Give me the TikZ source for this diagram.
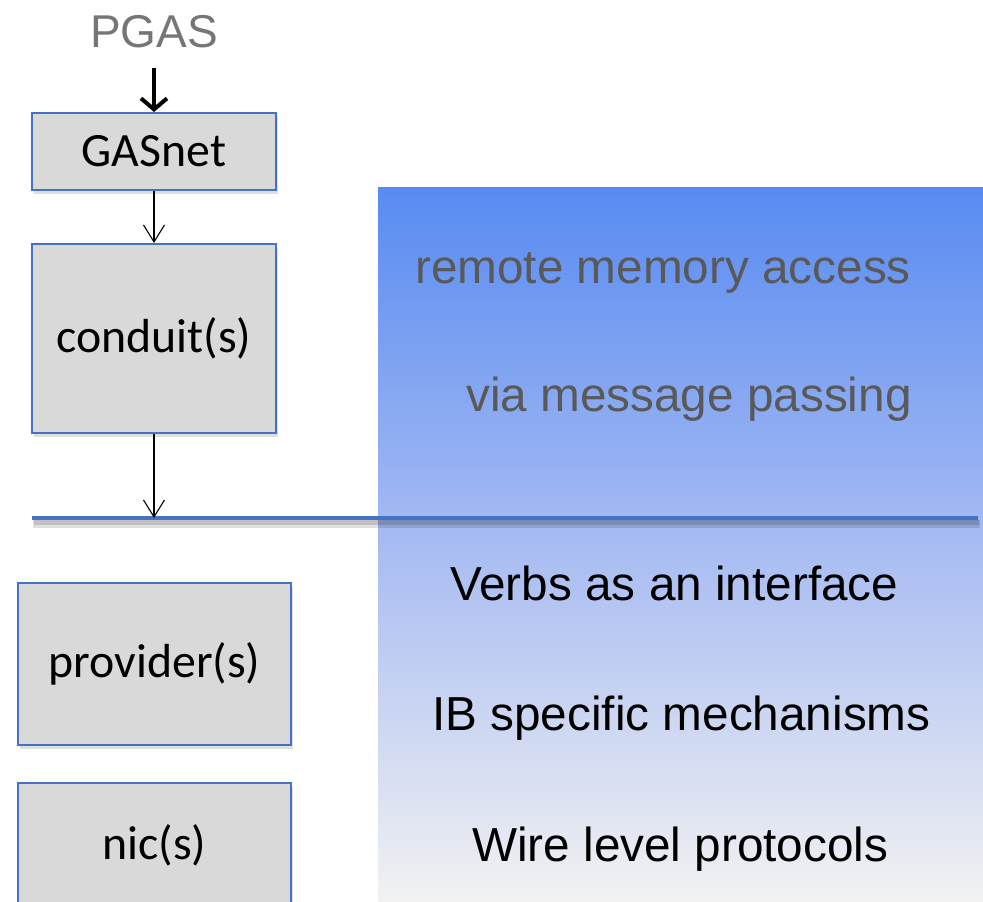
\documentclass[tikz,border=0pt]{standalone}
\usepackage{fontspec}
\setmainfont{Liberation Sans}
\newfontfamily\boxfont{Carlito}
\usetikzlibrary{arrows.meta,shadows,shadings}

\definecolor{edgeblue}{RGB}{68,114,196}
\definecolor{boxgray}{RGB}{217,217,217}
\definecolor{panettop}{RGB}{88,139,242}
\definecolor{panelmid}{RGB}{168,188,242}
\definecolor{panelbot}{RGB}{242,242,242}
\definecolor{pgasgray}{RGB}{118,118,118}
\definecolor{notegray}{RGB}{89,89,89}

\tikzset{
  layerbox/.style={draw=edgeblue, line width=2pt, fill=boxgray, rectangle,
    inner sep=0pt, font=\boxfont\fontsize{47.8}{56}\selectfont,
    drop shadow={opacity=0.25, shadow xshift=2pt, shadow yshift=-4pt}},
  note/.style={anchor=base west, inner sep=0pt, font=\fontsize{47.7}{56}\selectfont},
  thinarrow/.style={line width=1.1pt, -{Straight Barb[length=17pt,width=21pt,line width=1.1pt]}},
  thickarrow/.style={line width=4pt, -{Straight Barb[length=11pt,width=26pt,line width=4pt]}}
}

\begin{document}
\begin{tikzpicture}[x=1pt,y=-1pt]
  \useasboundingbox (0,0) rectangle (983,902);
  \clip (0,0) rectangle (983,902);

  % shaded panel behind the protocol notes
  \shade[top color=panettop, bottom color=panelbot, middle color=panelmid]
    (378,187) rectangle (983,902);

  % layer boxes
  \node[layerbox, minimum width=244pt, minimum height=77pt] (gasnet) at (154,151.5) {GASnet};
  \node[layerbox, minimum width=244pt, minimum height=189pt] (conduit) at (154,338.5) {conduit(s)};
  \node[layerbox, minimum width=273pt, minimum height=162pt] (provider) at (154.5,664) {provider(s)};
  \node[layerbox, minimum width=273pt, minimum height=125pt] (nic) at (154.5,845.5) {nic(s)};

  % top label
  \node[anchor=base, inner sep=0pt, text=pgasgray, font=\fontsize{46}{55}\selectfont] (pgas) at (154,47) {PGAS};

  % interface line
  \coordinate (lineL) at (32,518);
  \coordinate (lineR) at (978,518);
  \coordinate (hit) at (154,518);
  \fill[black, opacity=0.12] (33,520) rectangle (980,528);
  \fill[black, opacity=0.14] (34,520) rectangle (979,525);
  \draw[edgeblue, line width=4pt] (lineL) -- (lineR);

  % connectors
  \draw[thickarrow] ([yshift=-21pt]pgas.base) -- (gasnet.north);
  \draw[thinarrow] (gasnet.south) -- (conduit.north);
  \draw[thinarrow] (conduit.south) -- (hit);

  % notes
  \node[note, text=notegray] (rma) at (415,283) {remote memory access};
  \node[note, text=notegray] (via) at (466,411) {via message passing};
  \node[note] (verbs) at (450,600) {Verbs as an interface};
  \node[note] (ib) at (432,730) {IB specific mechanisms};
  \node[note] (wire) at (472,861) {Wire level protocols};
\end{tikzpicture}
\end{document}
